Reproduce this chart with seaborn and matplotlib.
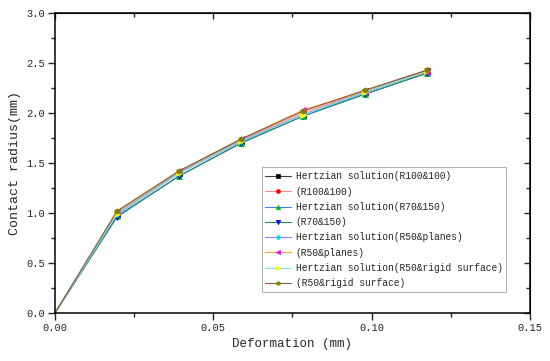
import numpy as np
import pandas as pd
import matplotlib
matplotlib.use('Agg')
import matplotlib.pyplot as plt
import seaborn as sns
from matplotlib.ticker import MultipleLocator

# Deformation (mm)
deformation = [0.0, 0.0196, 0.0392, 0.0588, 0.0784, 0.098, 0.1176]

# Contact radius (mm) for each case
hertz_r100 = [0.0, 0.99, 1.40, 1.72, 1.98, 2.21, 2.42]
fem_r100 = [0.0, 1.01, 1.41, 1.73, 2.00, 2.22, 2.43]
hertz_r70 = [0.0, 0.97, 1.37, 1.70, 1.97, 2.19, 2.40]
fem_r70 = [0.0, 0.96, 1.37, 1.70, 1.97, 2.19, 2.40]
hertz_r50p = [0.0, 0.99, 1.40, 1.72, 1.98, 2.21, 2.42]
fem_r50p = [0.0, 1.01, 1.42, 1.74, 2.03, 2.22, 2.41]
hertz_r50r = [0.0, 0.99, 1.40, 1.72, 1.98, 2.21, 2.42]
fem_r50r = [0.0, 1.02, 1.42, 1.74, 2.02, 2.23, 2.43]

labels = ['Hertzian solution(R100&100)', '(R100&100)',
          'Hertzian solution(R70&150)', '(R70&150)',
          'Hertzian solution(R50&planes)', '(R50&planes)',
          'Hertzian solution(R50&rigid surface)', '(R50&rigid surface)']
series = [hertz_r100, fem_r100, hertz_r70, fem_r70,
          hertz_r50p, fem_r50p, hertz_r50r, fem_r50r]

# (line colour, marker colour, marker)
styles = [('#3a3a3a', '#000000', 's'),
          ('#ff8a8a', '#ff0000', 'o'),
          ('#3f7fff', '#00c000', '^'),
          ('#1f8a6a', '#0000ff', 'v'),
          ('#b070ff', '#00e0e0', 'D'),
          ('#f0a830', '#ff00ff', '<'),
          ('#70e8e8', '#ffff00', '>'),
          ('#8a5a3a', '#808000', 'h')]

df = pd.DataFrame({'x': deformation * len(series),
                   'y': np.concatenate(series),
                   'case': np.repeat(labels, len(deformation))})

sns.set_style('white')
plt.rcParams['font.family'] = ['Liberation Mono', 'DejaVu Sans Mono']

fig = plt.figure(figsize=(5.5, 3.61), dpi=100)
ax = fig.add_axes([0.1, 0.133, 0.8636, 0.831])

for lab, (lc, mc, mk) in zip(labels, styles):
    sub = df[df['case'] == lab]
    ms = 3.8 if mk in ('s', 'o', 'h') else 4.2
    if mk == 'D':
        ms = 3.2
    sns.lineplot(data=sub, x='x', y='y', ax=ax, color=lc, lw=0.8,
                 marker=mk, markersize=ms, markerfacecolor=mc,
                 markeredgecolor=mc, markeredgewidth=0.5, label=lab,
                 markevery=slice(1, None))

ax.set_xlim(0, 0.15)
ax.set_ylim(0, 3.0)
ax.xaxis.set_major_locator(MultipleLocator(0.05))
ax.xaxis.set_minor_locator(MultipleLocator(0.025))
ax.yaxis.set_major_locator(MultipleLocator(0.5))
ax.yaxis.set_minor_locator(MultipleLocator(0.25))
ax.set_xticklabels([f'{v:.2f}' for v in ax.get_xticks()])
ax.set_yticklabels([f'{v:.1f}' for v in ax.get_yticks()])
ax.tick_params(which='major', direction='out', length=5, width=1, labelsize=7.5,
               bottom=True, left=True, top=False, right=False, pad=2)
ax.tick_params(which='minor', direction='out', length=3, width=1,
               bottom=True, left=True, top=False, right=False)
for sp in ax.spines.values():
    sp.set_color('black')
    sp.set_linewidth(1.1)

# mirrored inward ticks on top and right
top = ax.secondary_xaxis('top')
top.xaxis.set_major_locator(MultipleLocator(0.05))
top.xaxis.set_minor_locator(MultipleLocator(0.025))
top.tick_params(which='major', direction='in', length=4, width=1, labeltop=False)
top.tick_params(which='minor', direction='in', length=3, width=1)
right = ax.secondary_yaxis('right')
right.yaxis.set_major_locator(MultipleLocator(0.5))
right.yaxis.set_minor_locator(MultipleLocator(0.25))
right.tick_params(which='major', direction='in', length=4, width=1, labelright=False)
right.tick_params(which='minor', direction='in', length=3, width=1)

ax.set_xlabel('Deformation (mm)', fontsize=9, labelpad=4)
ax.set_ylabel('Contact radius(mm)', fontsize=9.5, labelpad=4)

leg = ax.legend(loc='upper left', bbox_to_anchor=(0.435, 0.485), fontsize=6.9,
                frameon=True, fancybox=False, edgecolor='#a0a0a0',
                handlelength=2.7, handletextpad=0.45, labelspacing=0.55,
                borderpad=0.4, borderaxespad=0, markerscale=0.75)
leg.get_frame().set_linewidth(0.8)

fig.savefig('out.png', dpi=100)
